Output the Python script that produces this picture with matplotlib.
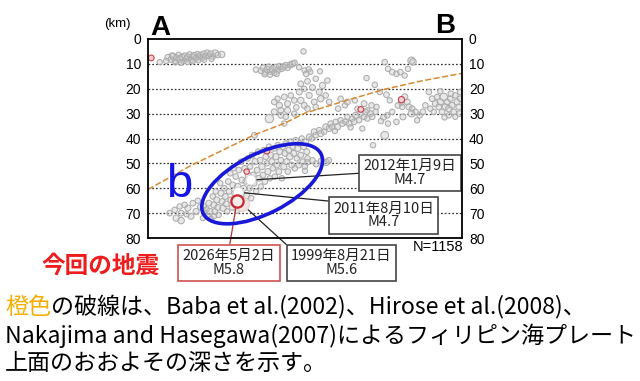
import matplotlib
matplotlib.use("Agg")
import matplotlib.pyplot as plt
from matplotlib.patches import Ellipse
import numpy as np

plt.rcParams["font.family"] = ["Noto Sans CJK JP", "DejaVu Sans"]

# hypocentres: (distance along A-B [km], depth [km], magnitude)
shallow_w = [
    (4.7, 9.3, 1.5), (8.0, 7.4, 2.0), (9.2, 8.2, 1.8), (10.1, 7.0, 2.2), (10.8, 8.8, 1.6),
    (11.5, 7.6, 2.0), (12.3, 6.4, 1.7), (12.9, 8.1, 2.3), (13.6, 7.2, 1.9), (14.2, 9.0, 1.5),
    (14.8, 6.8, 2.1), (15.4, 8.0, 1.8), (16.0, 7.3, 2.4), (16.7, 6.2, 1.6), (17.3, 8.4, 2.0),
    (17.9, 7.0, 1.7), (18.6, 6.6, 2.2), (19.2, 7.8, 1.9), (19.9, 6.0, 1.5), (20.5, 7.2, 2.0),
    (21.1, 6.5, 1.8), (21.8, 7.7, 1.6), (22.4, 6.1, 2.3), (23.0, 7.0, 1.9), (23.7, 5.6, 2.0),
    (24.4, 6.8, 1.7), (25.2, 6.0, 2.1), (26.0, 7.1, 1.6), (27.0, 5.7, 2.4), (28.0, 6.4, 1.8),
    (29.6, 6.2, 2.2), (11.0, 9.4, 1.4), (13.2, 9.6, 1.6), (15.8, 9.2, 1.5), (18.0, 9.0, 1.3),
    (20.2, 8.6, 1.5), (9.6, 6.6, 1.5), (22.6, 8.4, 1.4), (25.5, 8.0, 1.5), (7.3, 8.8, 1.6),
]
shallow_m = [
    (43.3, 12.3, 1.6), (45.4, 12.8, 1.8), (46.2, 11.6, 2.0), (47.0, 13.4, 1.7), (47.8, 12.2, 2.2),
    (48.5, 11.2, 1.9), (49.2, 13.0, 2.0), (50.0, 12.0, 2.3), (50.7, 13.6, 1.6), (51.4, 11.4, 2.1),
    (52.1, 12.6, 1.8), (52.8, 11.0, 2.0), (53.6, 12.0, 1.7), (54.4, 11.2, 2.2), (55.2, 10.6, 1.9),
    (56.0, 11.6, 1.6), (57.0, 10.4, 2.0), (58.0, 10.0, 2.1), (58.8, 9.6, 1.7), (60.6, 11.4, 1.5),
    (62.4, 5.0, 1.6), (62.8, 12.6, 1.5), (63.5, 14.0, 1.8), (46.8, 14.2, 1.5), (49.0, 14.4, 1.4),
    (51.6, 14.0, 1.6),
]
crust_c = [
    (61.3, 18.0, 1.8), (62.7, 20.0, 1.6), (60.7, 21.3, 2.0), (57.3, 22.7, 1.7), (54.7, 23.3, 1.9),
    (52.0, 24.0, 1.6), (50.7, 25.3, 1.8), (52.7, 26.7, 2.2), (56.0, 26.0, 2.0), (58.7, 24.7, 1.7),
    (61.3, 24.7, 2.3), (62.7, 26.7, 2.0), (53.3, 28.7, 1.9), (56.0, 28.7, 2.1), (58.7, 30.0, 1.6),
    (53.3, 30.7, 1.8), (50.7, 29.3, 2.0), (48.7, 32.0, 3.6), (55.3, 31.3, 1.5), (59.5, 27.5, 1.7),
    (64.0, 17.0, 1.8), (66.0, 19.5, 2.0), (67.3, 16.0, 1.6), (68.7, 21.3, 1.9), (70.0, 18.7, 2.1),
    (71.3, 22.7, 1.7), (72.0, 16.7, 1.6), (69.3, 24.0, 2.2), (66.7, 25.3, 1.8), (64.7, 22.7, 2.0),
    (72.7, 25.3, 1.7), (67.3, 27.3, 1.6), (64.0, 28.0, 1.8), (69.0, 13.0, 1.5), (64.5, 12.2, 1.6),
    (65.2, 13.2, 1.4),
]
crust_e = [
    (95.0, 9.3, 1.7), (96.3, 12.0, 1.6), (98.0, 13.3, 1.8), (99.7, 14.0, 1.6), (101.3, 13.3, 1.7),
    (103.0, 14.7, 1.5), (104.3, 12.0, 1.6), (105.7, 8.7, 2.8), (106.3, 9.2, 2.4), (87.7, 15.7, 1.6),
    (91.0, 18.4, 1.7), (93.0, 21.3, 1.6), (95.7, 22.4, 1.8), (97.0, 24.7, 1.5), (101.7, 25.5, 2.0),
    (103.0, 23.3, 2.2), (104.0, 25.3, 1.9), (100.3, 26.7, 1.8), (102.0, 27.3, 1.6), (104.7, 27.3, 2.0),
    (106.0, 28.0, 1.7), (107.3, 29.3, 1.8), (109.0, 30.7, 1.6), (110.3, 29.3, 1.9), (108.0, 32.7, 1.5),
    (96.0, 30.7, 1.7), (98.0, 29.3, 1.6), (94.5, 31.5, 1.8), (99.7, 33.3, 1.7), (102.3, 31.3, 2.0),
    (105.7, 30.0, 2.4), (96.3, 34.0, 1.6), (77.3, 24.0, 1.6), (80.0, 25.3, 1.8), (83.0, 24.7, 1.6),
    (86.7, 26.0, 1.9), (89.7, 26.7, 1.7), (91.7, 27.3, 1.6), (79.0, 26.7, 1.5), (76.3, 28.0, 1.7),
    (88.0, 28.7, 1.6), (84.0, 28.0, 1.5),
]
east = [
    (112.7, 21.3, 1.7), (114.0, 24.0, 1.8), (115.3, 26.0, 2.0), (116.7, 27.3, 1.9), (117.3, 25.3, 2.2),
    (118.7, 23.3, 3.0), (119.3, 27.3, 2.1), (120.0, 25.3, 1.8), (120.7, 28.0, 2.3), (121.3, 24.0, 1.7),
    (122.0, 26.7, 2.0), (122.7, 29.3, 1.8), (123.3, 22.7, 1.6), (124.0, 25.3, 2.1), (124.7, 27.3, 1.9),
    (125.3, 24.0, 1.7), (125.3, 21.3, 1.8), (113.3, 28.0, 1.6), (114.7, 29.3, 1.5), (116.0, 23.3, 1.6),
    (118.0, 29.3, 1.9), (120.7, 30.7, 1.6), (123.3, 31.3, 1.5), (125.0, 30.0, 1.8), (111.3, 26.7, 1.7),
    (117.3, 21.0, 1.6), (121.5, 22.0, 1.7), (119.0, 31.5, 1.6),
]
slab_e = [
    (64.7, 39.3, 1.8), (65.7, 40.0, 1.6), (66.7, 37.3, 2.0), (67.3, 38.7, 1.7), (68.7, 36.7, 1.8),
    (69.3, 38.0, 2.1), (70.7, 37.3, 1.6), (71.3, 35.3, 1.9), (72.7, 36.0, 2.0), (73.3, 34.0, 1.7),
    (74.0, 35.3, 1.8), (75.3, 33.3, 1.6), (76.0, 35.3, 2.2), (77.3, 32.7, 1.7), (78.0, 34.0, 1.9),
    (79.3, 33.3, 1.8), (80.0, 31.3, 1.6), (80.7, 34.0, 2.0), (82.0, 32.0, 1.7), (82.7, 33.3, 1.8),
    (83.3, 30.7, 2.1), (84.7, 32.7, 1.6), (85.3, 30.0, 1.9), (86.7, 31.3, 1.7), (87.3, 29.3, 1.8),
    (88.0, 32.0, 1.6), (89.3, 30.0, 2.0), (90.0, 31.3, 1.6), (91.3, 29.3, 1.7), (95.0, 38.7, 3.2),
    (90.3, 42.7, 1.6), (86.0, 36.0, 1.5), (81.3, 35.5, 1.6), (75.0, 37.0, 1.5), (93.5, 33.0, 1.6),
    (64.0, 49.5, 1.8), (66.0, 48.8, 1.7), (67.5, 50.2, 2.0), (69.5, 49.0, 1.9), (71.5, 49.6, 2.2),
    (72.5, 48.8, 1.8),
]
slab_w = [
    (8.7, 70.0, 1.8), (11.3, 72.0, 2.2), (13.3, 70.0, 1.9), (14.7, 66.7, 1.7), (16.0, 68.0, 2.0),
    (18.0, 66.0, 1.8), (19.3, 69.3, 2.1), (12.7, 67.3, 1.6), (10.7, 68.7, 1.7), (17.3, 71.3, 1.9),
    (13.3, 73.0, 2.3), (20.0, 65.0, 1.6), (21.0, 67.5, 1.7), (15.5, 70.5, 1.5),
]
slab_main = [
    (22.3, 67.3, 1.8), (22.8, 70.0, 2.0), (23.5, 68.5, 1.6), (23.9, 71.3, 1.7), (24.4, 66.0, 1.9),
    (24.8, 69.3, 2.2), (22.0, 72.0, 1.5), (25.3, 72.3, 1.6),
    (26.0, 63.3, 1.7), (26.4, 66.7, 2.0), (26.8, 69.3, 1.8), (27.2, 61.3, 1.6), (27.6, 64.7, 2.1),
    (28.0, 67.7, 1.9), (28.3, 70.7, 1.7), (26.5, 71.3, 1.5),
    (29.0, 58.0, 1.6), (29.3, 62.0, 2.0), (29.7, 65.3, 1.8), (30.1, 68.0, 2.2), (30.6, 60.0, 1.7),
    (31.0, 63.3, 1.9), (31.4, 66.3, 2.0), (31.8, 69.3, 1.6), (32.2, 57.3, 1.8), (32.5, 61.3, 1.7),
    (33.0, 54.0, 1.6), (33.3, 64.7, 2.1), (33.7, 67.7, 1.8), (34.0, 58.7, 1.9), (34.4, 52.0, 1.5),
    (34.8, 62.0, 2.0), (35.2, 55.3, 1.7), (35.6, 69.0, 1.6), (36.0, 59.3, 2.2), (36.4, 52.7, 1.8),
    (37.0, 63.3, 1.9), (37.3, 49.3, 1.6), (37.7, 56.7, 2.0), (38.0, 66.0, 1.7), (38.4, 60.0, 2.1),
    (38.8, 52.0, 1.8), (39.2, 57.3, 1.6), (39.6, 63.0, 1.9), (40.0, 48.0, 1.7), (40.3, 55.0, 2.3),
    (40.7, 60.0, 1.8), (41.0, 51.3, 1.6), (41.4, 64.0, 1.7), (41.8, 46.7, 1.9), (42.2, 54.7, 2.0),
    (42.6, 58.0, 1.8), (43.0, 49.3, 2.1), (43.4, 61.3, 1.6), (43.8, 52.7, 1.9), (44.2, 45.3, 1.7),
    (44.5, 56.0, 2.0),
    (45.0, 48.7, 1.8), (45.3, 59.3, 1.6), (45.7, 51.3, 2.2), (46.1, 54.7, 1.9), (46.5, 44.7, 1.7),
    (46.9, 57.3, 1.8), (47.3, 47.3, 2.0), (47.7, 50.0, 1.6), (48.1, 53.3, 2.1), (48.5, 43.3, 1.7),
    (48.9, 56.0, 1.6),
    (49.3, 46.7, 1.9), (49.7, 49.3, 2.0), (50.1, 52.0, 1.7), (50.5, 44.0, 1.8), (50.9, 55.3, 1.6),
    (51.3, 47.3, 2.2), (51.7, 50.7, 1.8), (52.1, 42.7, 1.7), (52.5, 53.3, 1.9), (52.9, 45.3, 2.0),
    (53.3, 48.7, 1.7), (53.7, 56.0, 1.6), (54.1, 43.3, 1.8), (54.5, 51.3, 2.1), (54.9, 46.0, 1.9),
    (55.3, 42.0, 1.6), (55.7, 49.3, 2.0), (56.1, 53.3, 1.7), (56.5, 44.7, 1.8), (56.9, 47.3, 2.3),
    (57.3, 41.3, 1.7), (57.7, 50.7, 1.9), (58.1, 43.3, 1.6), (58.5, 46.0, 2.0), (58.9, 52.0, 1.7),
    (59.3, 40.7, 1.8), (59.7, 48.0, 1.6), (60.1, 44.0, 2.1), (60.5, 50.7, 1.8), (60.9, 42.0, 1.7),
    (61.3, 46.7, 1.9), (61.7, 40.0, 1.6), (62.1, 49.3, 1.7), (62.5, 43.3, 2.0), (62.9, 51.3, 1.6),
    (63.3, 41.3, 1.8), (63.7, 45.3, 1.9), (64.0, 48.0, 1.7), (63.0, 53.0, 1.6),
    (42.7, 38.7, 1.8), (54.7, 34.0, 1.6),
]
# recent events shown in red
recent = [(1.3, 7.6, 1.8), (47.7, 45.0, 2.0), (39.6, 53.3, 1.6), (85.4, 28.3, 1.8), (101.7, 24.4, 2.2)]

# labelled events
ev_dates = ["2026年5月2日", "1999年8月21日", "2012年1月9日", "2011年8月10日"]
ev_dist = [35.7, 37.6, 41.3, 36.3]
ev_depth = [65.3, 66.3, 56.7, 61.6]
ev_mag = [5.8, 5.6, 4.7, 4.7]

# upper surface of the Philippine Sea plate
plate_dist = [0, 17, 42.5, 54.5, 63, 80, 95, 110, 126]
plate_depth = [60.5, 51.0, 38.6, 34.0, 29.8, 24.6, 20.2, 16.8, 13.8]

depth_ticks = [0, 10, 20, 30, 40, 50, 60, 70, 80]
n_total = 1158


def msize(m):
    return (0.72 * (3.0 + 1.5 * np.asarray(m))) ** 2


W, H = 640, 381
fig = plt.figure(figsize=(W / 100, H / 100), dpi=100)
ax = fig.add_axes([148 / W, 1 - 238 / H, 314 / W, 199 / H])
ax.set_xlim(0, 126)
ax.set_ylim(80, 0)

for d in depth_ticks[1:-1]:
    ax.axhline(d, color="#333333", lw=0.9, ls=(0, (1.4, 1.6)), zorder=1)

quakes = np.array(shallow_w + shallow_m + crust_c + crust_e + east + slab_e + slab_w + slab_main)
ax.scatter(quakes[:, 0], quakes[:, 1], s=msize(quakes[:, 2]),
           facecolors=(0.78, 0.78, 0.78, 0.4), edgecolors="#acacac", linewidths=0.75, zorder=2)

rec = np.array(recent)
ax.scatter(rec[:, 0], rec[:, 1], s=msize(rec[:, 2]), facecolors="#f2cfd2",
           edgecolors="#c8404a", linewidths=0.8, zorder=3)

ax.plot(plate_dist, plate_depth, color="#d98a30", lw=1.1, ls=(0, (4, 1.6)), zorder=4)

# labelled events: 1999 drawn first, 2026 on top
ax.scatter(ev_dist[1], ev_depth[1], s=msize(ev_mag[1]) * 1.5, facecolors="#f3e2e2",
           edgecolors="#ead0d0", linewidths=0.8, zorder=6)
ax.scatter(ev_dist[2:], ev_depth[2:], s=msize(ev_mag[2:]), facecolors="white",
           edgecolors="#d8d8d8", linewidths=0.8, zorder=6)
ax.scatter(ev_dist[0], ev_depth[0], s=msize(ev_mag[0]) * 1.1, facecolors="#fbeaea",
           edgecolors="#c8282c", linewidths=1.6, zorder=7)

ax.add_patch(Ellipse((45.8, 58.2), 53, 24, angle=-27, fill=False,
                     edgecolor="#1818d8", lw=2.6, zorder=8))
ax.text(12.5, 63.5, "b", color="#1414e6", fontsize=34, family="Liberation Sans",
        ha="center", va="baseline", zorder=8)

# callout boxes (centre in figure pixels from top-left, edge colour, line colour, attach point)
boxes = [
    ((229, 263), "#d05050", "#c03030", (0.5, 1)),
    ((341.5, 263), "#444444", "#222222", (0, 1)),
    ((410, 173), "#444444", "#222222", (0, 0.5)),
    ((383.5, 215.5), "#444444", "#222222", (0, 1)),
]
for i, (pos, ec, lc, rp) in enumerate(boxes):
    ax.annotate(f"{ev_dates[i]}\nM{ev_mag[i]}", xy=(ev_dist[i], ev_depth[i]), xycoords="data",
                xytext=(pos[0], H - pos[1]), textcoords="figure pixels",
                ha="center", va="center", multialignment="center",
                fontsize=10.5, color="#222222", linespacing=1.0,
                bbox=dict(boxstyle="square,pad=0.3", fc="white", ec=ec, lw=1.2),
                arrowprops=dict(arrowstyle="-", color=lc, lw=0.9, relpos=rp,
                                shrinkA=0, shrinkB=0),
                annotation_clip=False, zorder=5)

ax.set_xticks([])
ax.set_yticks(depth_ticks)
ax.set_yticklabels([str(t) for t in depth_ticks], family="Liberation Sans", fontsize=10)
ax.tick_params(axis="y", length=0, pad=5, labelright=True, right=False)
for sp in ax.spines.values():
    sp.set_linewidth(1.3)
    sp.set_zorder(9)

fig.text(117 / W, 1 - 27 / H, "(km)", family="Liberation Sans", fontsize=9.5, ha="center", va="baseline")
fig.text(160 / W, 1 - 35 / H, "A", family="Liberation Sans", fontsize=20, weight="bold",
         ha="center", va="baseline")
fig.text(445 / W, 1 - 33 / H, "B", family="Liberation Sans", fontsize=20, weight="bold",
         ha="center", va="baseline")
fig.text(463 / W, 1 - 251 / H, f"N={n_total}", family="Liberation Sans", fontsize=10.5,
         ha="right", va="baseline")
fig.text(101 / W, 1 - 266 / H, "今回の地震", color="#ee1c1c", fontsize=17, weight="bold",
         ha="center", va="center")

fs = 16.6
t0 = fig.text(5 / W, 1 - 307 / H, "橙色", color="#f5ae00", fontsize=fs, ha="left", va="center")
fig.canvas.draw()
bb = t0.get_window_extent()
fig.text(bb.x1 / W, 1 - 307 / H, "の破線は、Baba et al.(2002)、Hirose et al.(2008)、",
         fontsize=fs, ha="left", va="center")
fig.text(5 / W, 1 - 336 / H, "Nakajima and Hasegawa(2007)によるフィリピン海プレート",
         fontsize=fs, ha="left", va="center")
fig.text(5 / W, 1 - 364 / H, "上面のおおよその深さを示す。", fontsize=fs, ha="left", va="center")

fig.savefig("out.png", dpi=100)
